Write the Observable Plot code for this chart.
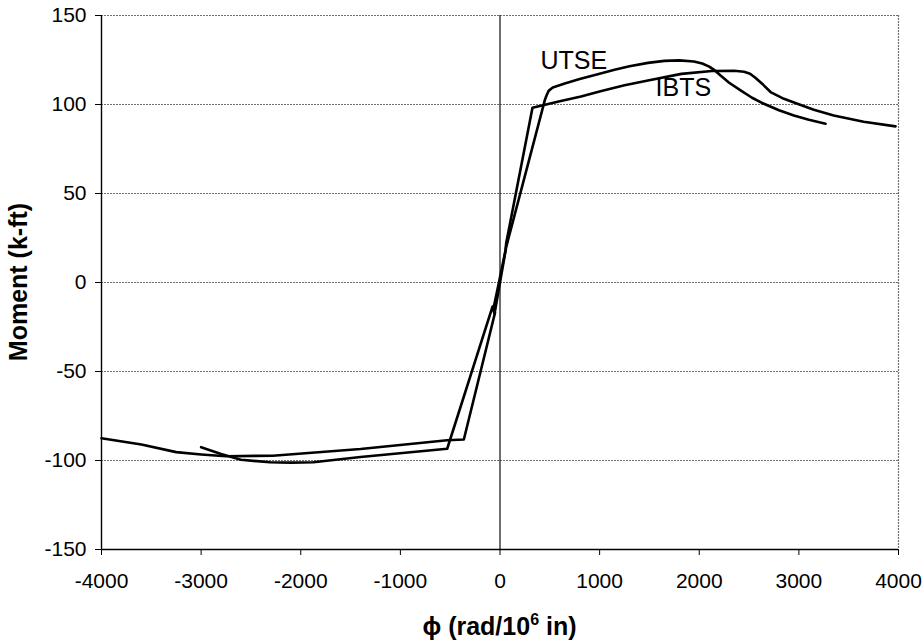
<!DOCTYPE html>
<html>
<head>
<meta charset="utf-8">
<script src="https://cdn.jsdelivr.net/npm/d3@7"></script>
<script src="https://cdn.jsdelivr.net/npm/@observablehq/plot@0.6"></script>
<style>
  html, body { margin: 0; padding: 0; background: #fff; }
  #chart svg { display: block; }
</style>
</head>
<body>
<div id="chart"></div>
<script>
// Tick values
const xTicks = [-4000, -3000, -2000, -1000, 0, 1000, 2000, 3000, 4000];
const yTicks = [-150, -100, -50, 0, 50, 100, 150];

// IBTS curve (phi, moment)
const ibtsPhi = [-4000, -3600, -3250, -3000, -2750, -2280, -1400, -530, -363,
  -50, -65, 0, 55, 62, 326, 600, 813, 1009, 1250, 1485, 1821, 2126, 2350, 2450, 2510, 2560, 2640, 2716, 2850, 2985, 3150, 3350, 3650, 3970];
const ibtsMoment = [-87.5, -91, -95.3, -96.6, -97.6, -97.3, -93.5, -88.6, -88.2,
  -17, -14.5, 3, 18, 22, 98.2, 101.8, 104.5, 107.5, 110.8, 113.5, 117.2, 118.8, 119, 118.4, 117.3, 115.2, 111.2, 107, 103.2, 100.4, 97, 93.8, 90.3, 87.7];

// UTSE curve (phi, moment)
const utsePhi = [-3000, -2800, -2600, -2310, -2100, -1874, -1400, -530,
  -75, -55, 0, 72, 58, 450, 470, 490, 530, 650, 800, 1000, 1150, 1300, 1485, 1650, 1800, 1946, 2030, 2100, 2160, 2214, 2300, 2415, 2530, 2649, 2800, 2950, 3100, 3268];
const utseMoment = [-92.5, -96.3, -99.6, -101, -101.2, -101, -98, -93.4,
  -13.5, -17.5, 0, 23, 19, 102.5, 105.5, 107.8, 109.6, 111.8, 114.3, 117.3, 119.5, 121.5, 123.4, 124.5, 124.8, 124.2, 123, 121.3, 119, 116.3, 112.2, 107.9, 103.8, 100.4, 96.8, 93.8, 91.4, 89.2];

// Curve labels
const labelNames = ["UTSE", "IBTS"];
const labelPhi = [406, 1561];
const labelMoment = [119.7, 104.5];

const rows = [
  ...ibtsPhi.map((x, i) => ({x, y: ibtsMoment[i], s: "IBTS"})),
  ...utsePhi.map((x, i) => ({x, y: utseMoment[i], s: "UTSE"}))
];
const labels = labelNames.map((t, i) => ({t, x: labelPhi[i], y: labelMoment[i]}));

const font = "'Liberation Sans', Arial, Helvetica, sans-serif";
const W = 924, H = 643;
const mL = 101, mR = 26, mT = 15, mB = 94;

const chart = Plot.plot({
  width: W,
  height: H,
  marginLeft: mL,
  marginRight: mR,
  marginTop: mT,
  marginBottom: mB,
  style: {fontFamily: font, fontSize: "21px", color: "#000", background: "#fff"},
  x: {domain: [-4000, 4000]},
  y: {domain: [-150, 150]},
  marks: [
    Plot.ruleY(yTicks.filter(d => d > -150), {stroke: "#707070", strokeWidth: 1.2, strokeDasharray: "2,1"}),
    Plot.ruleX([4000], {stroke: "#707070", strokeWidth: 1.2, strokeDasharray: "2,1"}),
    Plot.ruleX([0], {stroke: "#222", strokeWidth: 1.3}),
    Plot.ruleX([-4000], {stroke: "#000", strokeWidth: 1.4}),
    Plot.ruleY([-150], {stroke: "#000", strokeWidth: 1.4}),
    Plot.line(rows, {x: "x", y: "y", z: "s", stroke: "#000", strokeWidth: 2.6, strokeLinejoin: "round"}),
    Plot.text(labels, {x: "x", y: "y", text: "t", textAnchor: "start", lineAnchor: "bottom", fontSize: 25, fill: "#000"}),
    Plot.axisX({ticks: xTicks, tickSize: 6, tickPadding: 18, tickFormat: d => String(d), fontSize: 21, label: null, stroke: "#000"}),
    Plot.axisY({ticks: yTicks, tickSize: 6, tickPadding: 9, tickFormat: d => String(d), fontSize: 21, label: null, stroke: "#000"})
  ]
});

document.getElementById("chart").appendChild(chart);

const svg = d3.select(chart);
// X axis title with superscript
const xt = svg.append("text")
  .attr("x", mL + (W - mL - mR) / 2)
  .attr("y", 635)
  .attr("text-anchor", "middle")
  .attr("font-family", font)
  .attr("font-weight", "bold")
  .attr("font-size", 25)
  .attr("fill", "#000");
xt.append("tspan").text("\u03D5 (rad/10");
xt.append("tspan").attr("dy", -10).attr("font-size", 16).text("6");
xt.append("tspan").attr("dy", 10).text(" in)");

// Y axis title
svg.append("text")
  .attr("transform", `translate(27, ${mT + (H - mT - mB) / 2}) rotate(-90)`)
  .attr("text-anchor", "middle")
  .attr("font-family", font)
  .attr("font-weight", "bold")
  .attr("font-size", 25)
  .attr("fill", "#000")
  .text("Moment (k-ft)");
</script>
</body>
</html>
